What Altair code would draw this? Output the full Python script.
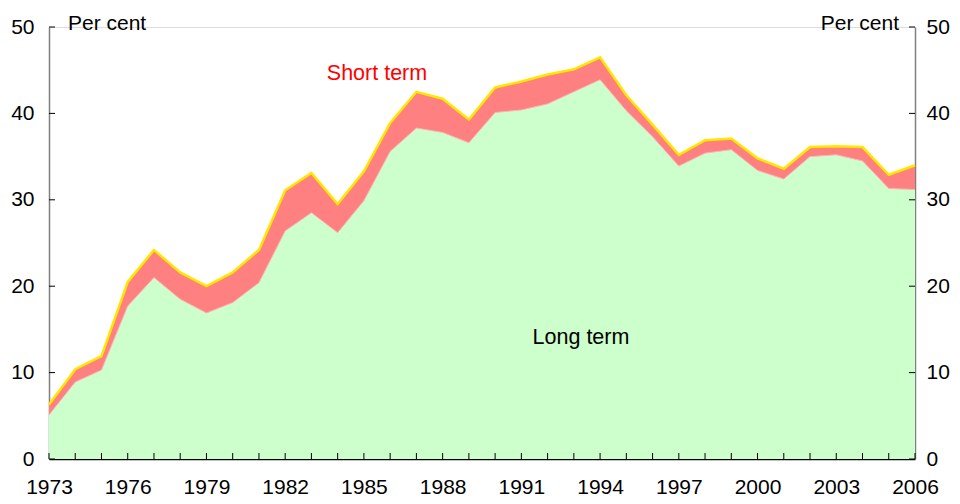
import altair as alt
import pandas as pd

years = list(range(1973, 2007))
total = [6.3, 10.4, 11.9, 20.5, 24.2, 21.6, 20.0, 21.6, 24.2, 31.1, 33.1, 29.5,
         33.3, 38.9, 42.5, 41.7, 39.3, 43.0, 43.7, 44.5, 45.1, 46.5, 42.1, 38.7,
         35.2, 36.9, 37.1, 34.8, 33.6, 36.1, 36.2, 36.1, 32.9, 34.0]
long_term = [5.1, 8.9, 10.3, 17.7, 21.0, 18.5, 16.9, 18.1, 20.4, 26.4, 28.5, 26.2,
             29.9, 35.6, 38.3, 37.8, 36.6, 40.1, 40.4, 41.1, 42.5, 43.9, 40.3, 37.3,
             33.9, 35.4, 35.8, 33.4, 32.4, 35.0, 35.2, 34.5, 31.3, 31.2]
y_ticks = [0, 10, 20, 30, 40, 50]

df = pd.DataFrame({"year": years, "total": total, "long": long_term})
ydf = pd.DataFrame({"v": y_ticks})

W, H = 866, 432
FONT = "Liberation Sans"
FS = 21

xs = alt.Scale(domain=[1973, 2006], nice=False, zero=False)
ys = alt.Scale(domain=[0, 50], nice=False)

xaxis = alt.Axis(values=years, format="d", ticks=False, grid=False,
                 labelExpr="(datum.value - 1973) % 3 == 0 ? datum.label : ''",
                 labelFontSize=FS, labelFont=FONT, labelColor="black",
                 labelPadding=17, domainColor="black", domainWidth=1.5,
                 title=None, labelOverlap=False, labelFlush=False, labelBound=False)
yaxis_l = alt.Axis(values=y_ticks, ticks=False, grid=False, labelFontSize=FS,
                   labelFont=FONT, labelColor="black", labelPadding=15,
                   domainColor="#808080", domainWidth=1.5, title=None)
yaxis_r = alt.Axis(values=y_ticks, ticks=False, grid=False, labelFontSize=FS,
                   labelFont=FONT, labelColor="black", labelPadding=11,
                   domainColor="#808080", domainWidth=1.5, title=None, orient="right")

base = alt.Chart(df)
XA = alt.X("year:Q", scale=xs, axis=xaxis)

short_area = base.mark_area(color="#FF8080", opacity=1).encode(
    x=XA,
    y=alt.Y("total:Q", scale=ys, axis=yaxis_l),
)
long_area = base.mark_area(color="#CCFFCC", opacity=1).encode(
    x=XA,
    y=alt.Y("long:Q", scale=ys, axis=None),
)
long_edge = base.mark_line(color="#FFB4B4", strokeWidth=1).encode(
    x=XA,
    y=alt.Y("long:Q", scale=ys, axis=None),
)
top_line = base.mark_line(color="#FFE800", strokeWidth=2.5).encode(
    x=XA,
    y=alt.Y("total:Q", scale=ys, axis=None),
)
right_axis = base.mark_line(opacity=0).encode(
    x=XA,
    y=alt.Y("total:Q", scale=ys, axis=yaxis_r),
)

xticks = base.mark_rule(color="black", strokeWidth=1).encode(
    x=XA,
    y=alt.value(H),
    y2=alt.value(H - 6),
)
yticks_l = alt.Chart(ydf).mark_rule(color="black", strokeWidth=1).encode(
    y=alt.Y("v:Q", scale=ys, axis=None),
    x=alt.value(0),
    x2=alt.value(6),
)
yticks_r = alt.Chart(ydf).mark_rule(color="black", strokeWidth=1).encode(
    y=alt.Y("v:Q", scale=ys, axis=None),
    x=alt.value(W - 6),
    x2=alt.value(W),
)

def label(text, x, y, color="black", align="center", size=FS):
    return alt.Chart(pd.DataFrame({"t": [text]})).mark_text(
        font=FONT, fontSize=size, color=color, align=align, baseline="middle"
    ).encode(text="t:N", x=alt.value(x), y=alt.value(y))

labels = [
    label("Short term", 328, 47, color="#FF0000", size=21.5),
    label("Long term", 532, 311, size=21.5),
    label("Per cent", 19, -3, align="left"),
    label("Per cent", 850, -3, align="right"),
]

chart = alt.layer(
    short_area, long_area, long_edge, top_line, right_axis, xticks, yticks_l, yticks_r, *labels
).resolve_scale(y="shared").resolve_axis(y="independent").properties(
    width=W, height=H,
    autosize=alt.AutoSizeParams(type="none"),
    padding={"left": 41, "top": 19, "right": 37, "bottom": 37},
).configure_view(stroke=None).configure(background="white")

chart.save("out.html", embed_options={"renderer": "svg", "actions": False})
